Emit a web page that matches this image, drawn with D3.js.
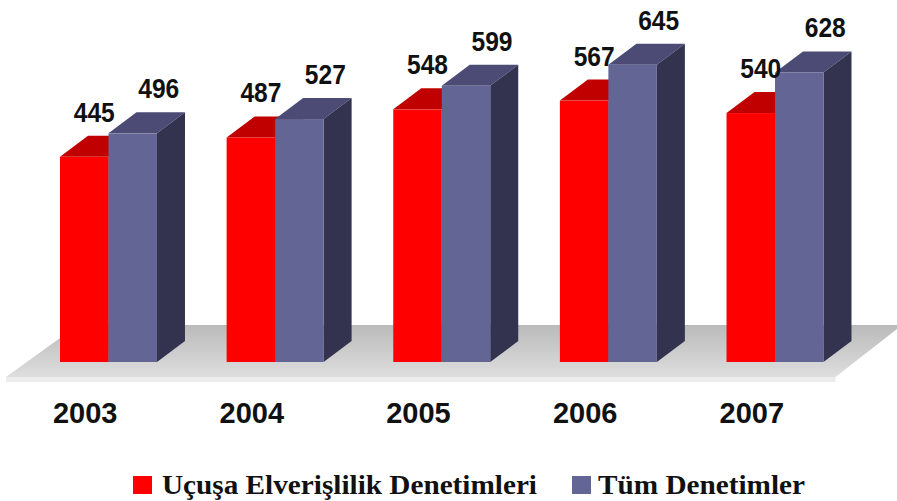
<!DOCTYPE html>
<html>
<head>
<meta charset="utf-8">
<script src="https://cdn.jsdelivr.net/npm/d3@7"></script>
<style>
  html, body { margin: 0; padding: 0; background: #fff; }
  svg { display: block; }
</style>
</head>
<body>
<div id="vis"></div>
<script>
// veriler
var years = ["2003", "2004", "2005", "2006", "2007"];
var ucusa = [445, 487, 548, 567, 540];
var tum = [496, 527, 599, 645, 628];
var seriesNames = ["Uçuşa Elverişlilik Denetimleri", "Tüm Denetimler"];

var width = 897;
var height = 501;

// 3d derinlik
var DX = 28, DY = 21;

var colors = [
  { front: "#ff0000", top: "#c00000", side: "#8f0000" },
  { front: "#636594", top: "#4b4b76", side: "#33334f" }
];

var svg = d3.select("#vis").append("svg")
    .attr("width", width)
    .attr("height", height);

var x = d3.scaleBand()
    .domain(years)
    .range([60, 823.5])
    .paddingInner(0.418)
    .paddingOuter(0);

var xs = d3.scaleBand()
    .domain([0, 1])
    .range([0, x.bandwidth()])
    .padding(0);

var y = d3.scaleLinear()
    .domain([0, 700])
    .range([362, 39.3]);

// zemin
var defs = svg.append("defs");
var grad = defs.append("linearGradient")
    .attr("id", "floorGrad")
    .attr("x1", 0).attr("y1", 0).attr("x2", 0).attr("y2", 1);
grad.append("stop").attr("offset", "0%").attr("stop-color", "#bababa");
grad.append("stop").attr("offset", "100%").attr("stop-color", "#dedede");

var fBack = y(0) - 37, fFront = y(0) + 15;
var xl = x.range()[0], xr = x.range()[1];
svg.append("polygon")
    .attr("points", [
      [xl + 18, fBack], [width + 5, fBack],
      [xr + 12, fFront], [xl - 54, fFront]
    ].map(function(p) { return p.join(","); }).join(" "))
    .style("fill", "url(#floorGrad)");
svg.append("rect")
    .attr("x", xl - 54)
    .attr("y", fFront)
    .attr("width", xr + 12 - (xl - 54))
    .attr("height", 5)
    .style("fill", "#ececec");

function drawBar(g, x0, w, v, c) {
  var yt = y(v), yb = y(0);
  // ust yuz
  g.append("polygon")
      .attr("points", [
        [x0, yt], [x0 + DX, yt - DY], [x0 + w + DX, yt - DY], [x0 + w, yt]
      ].map(function(p) { return p.join(","); }).join(" "))
      .style("fill", c.top);
  // yan yuz
  g.append("polygon")
      .attr("points", [
        [x0 + w, yt], [x0 + w + DX, yt - DY], [x0 + w + DX, yb - DY], [x0 + w, yb]
      ].map(function(p) { return p.join(","); }).join(" "))
      .style("fill", c.side);
  // on yuz
  g.append("rect")
      .attr("x", x0)
      .attr("y", yt)
      .attr("width", w)
      .attr("height", yb - yt)
      .style("fill", c.front);
}

years.forEach(function(yr, i) {
  var g = svg.append("g");
  var vals = [ucusa[i], tum[i]];
  vals.forEach(function(v, s) {
    drawBar(g, x(yr) + xs(s), xs.bandwidth(), v, colors[s]);
  });
  vals.forEach(function(v, s) {
    var cx = x(yr) + xs(s) + xs.bandwidth() / 2 + (s === 0 ? 10 : 26);
    svg.append("text")
        .attr("x", cx)
        .attr("y", y(v) - 35)
        .attr("text-anchor", "middle")
        .attr("textLength", 41)
        .attr("lengthAdjust", "spacingAndGlyphs")
        .style("font-family", "'Liberation Sans', Arial, sans-serif")
        .style("font-weight", "bold")
        .style("font-size", "27px")
        .style("fill", "#111")
        .text(v);
  });

  // yil etiketi
  svg.append("text")
      .attr("x", x(yr) + xs(0) + xs.bandwidth() / 2 + 1)
      .attr("y", 423)
      .attr("text-anchor", "middle")
      .style("font-family", "'Liberation Sans', Arial, sans-serif")
      .style("font-weight", "bold")
      .style("font-size", "29px")
      .style("fill", "#111")
      .text(yr);
});

// lejant
var legendItems = [
  { sx: 133, tx: 162, tl: 375 },
  { sx: 572, tx: 598, tl: 207 }
];
legendItems.forEach(function(it, i) {
  svg.append("rect")
      .attr("x", it.sx)
      .attr("y", 476)
      .attr("width", 19)
      .attr("height", 18)
      .style("fill", colors[i].front);
  svg.append("text")
      .attr("x", it.tx)
      .attr("y", 494)
      .attr("textLength", it.tl)
      .attr("lengthAdjust", "spacingAndGlyphs")
      .style("font-family", "'Liberation Serif', 'Times New Roman', serif")
      .style("font-weight", "bold")
      .style("font-size", "28px")
      .style("fill", "#111")
      .text(seriesNames[i]);
});
</script>
</body>
</html>
